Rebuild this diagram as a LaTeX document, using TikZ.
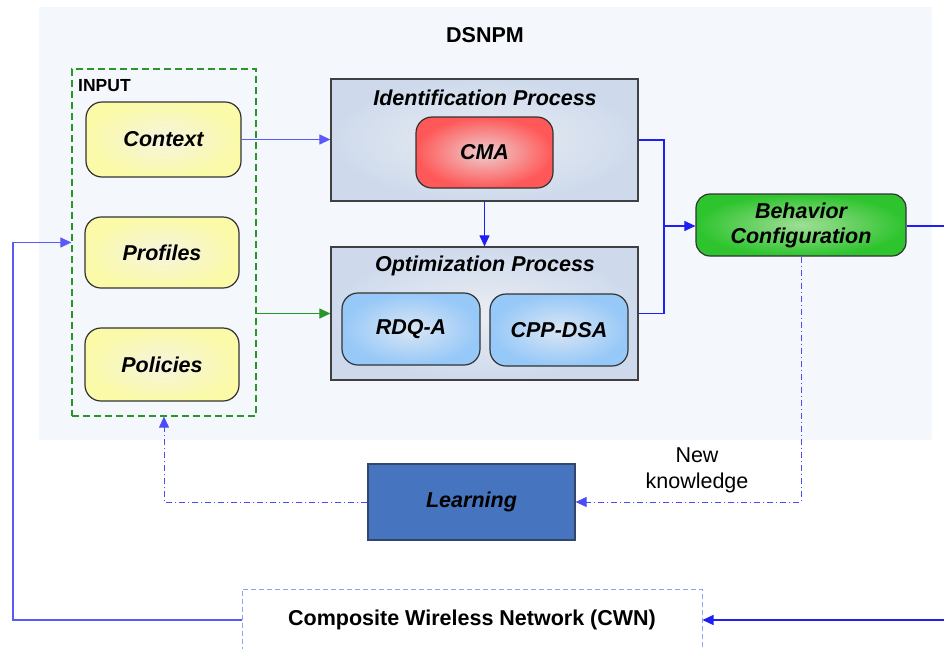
\documentclass[tikz,border=0pt]{standalone}
\usepackage{fontspec}
\setmainfont{Liberation Sans}
\usetikzlibrary{arrows.meta}

\definecolor{panelbg}{RGB}{244,247,252}
\definecolor{procout}{RGB}{206,218,236}
\definecolor{procin}{RGB}{234,237,243}
\definecolor{yelout}{RGB}{250,250,168}
\definecolor{yelin}{RGB}{246,244,222}
\definecolor{redout}{RGB}{255,88,88}
\definecolor{redin}{RGB}{238,206,206}
\definecolor{bluout}{RGB}{150,200,248}
\definecolor{bluin}{RGB}{218,230,244}
\definecolor{grnout}{RGB}{46,196,46}
\definecolor{grnin}{RGB}{160,222,150}
\definecolor{learnfill}{RGB}{70,116,190}
\definecolor{learnline}{RGB}{50,70,110}
\definecolor{flowblue}{RGB}{30,30,245}
\definecolor{lightflow}{RGB}{90,90,250}
\definecolor{inputgreen}{RGB}{40,150,40}
\definecolor{cwnline}{RGB}{130,165,250}

\tikzset{
  every node/.style={font=\fontsize{21.5}{25}\selectfont},
  bigfont/.style={font=\fontsize{21.5}{25}\selectfont\bfseries},
  itfont/.style={font=\fontsize{21.5}{25}\selectfont\bfseries\itshape},
  rblock/.style={itfont, draw=black!80, line width=1.2pt, rounded corners=16pt, align=center, inner sep=0pt},
  inblock/.style={rblock, inner color=yelin, outer color=yelout, minimum width=155pt, minimum height=75pt},
  cmablock/.style={rblock, inner color=redin, outer color=redout, minimum width=137pt, minimum height=71pt},
  algblock/.style={rblock, inner color=bluin, outer color=bluout, minimum width=138pt, minimum height=72pt},
  procblock/.style={draw=black!75, line width=1.2pt, inner color=procin, outer color=procout, minimum width=307pt, inner sep=0pt},
  flow/.style={draw=flowblue, line width=1.1pt, -{Triangle[length=11pt,width=10pt]}},
  feedback/.style={draw=flowblue!80!white, line width=0.9pt, dash pattern=on 6pt off 3pt on 1pt off 3pt, -{Triangle[length=11pt,width=10pt]}}
}

\begin{document}
\begin{tikzpicture}[x=1pt,y=-1pt]
  \useasboundingbox (0,0) rectangle (944,648);
  \fill[white] (0,0) rectangle (944,648);

  \node[fill=panelbg, minimum width=893pt, minimum height=433pt, inner sep=0pt] (dsnpm) at (485.5,223.5) {};
  \node[bigfont] (dsnpmtitle) at (485,35) {DSNPM};

  \node[draw=inputgreen, line width=1.2pt, dash pattern=on 7pt off 4pt, minimum width=184pt, minimum height=347pt, inner sep=0pt] (input) at (164,242.5) {};
  \node[font=\fontsize{17.5}{20}\selectfont\bfseries, anchor=west, inner sep=0pt] (inputtitle) at (78,86) {INPUT};
  \node[inblock] (context) at (163.5,139.5) {Context};
  \node[inblock, minimum width=154pt, minimum height=71pt] (profiles) at (162,252.5) {Profiles};
  \node[inblock, minimum width=154pt, minimum height=73pt] (policies) at (162,364.5) {Policies};

  \node[procblock, minimum height=122pt] (ident) at (484.5,140) {};
  \node[itfont] (identtitle) at (485,98) {Identification Process};
  \node[cmablock] (cma) at (484.5,152.5) {CMA};

  \node[procblock, minimum height=133pt] (optim) at (484.5,313.5) {};
  \node[itfont] (optimtitle) at (485,266) {Optimization Process};
  \node[algblock] (rdqa) at (411,329) {RDQ-A};
  \node[algblock] (cppdsa) at (559,330) {CPP-DSA};

  \node[rblock, rounded corners=14pt, inner color=grnin, outer color=grnout, minimum width=210pt, minimum height=62pt] (behavior) at (801,225) {Behavior\\[0pt]Configuration};

  \node[itfont, draw=learnline, line width=1.2pt, fill=learnfill, minimum width=207pt, minimum height=76pt, inner sep=0pt] (learning) at (471.5,502) {Learning};

  \node[bigfont, draw=cwnline, fill=white, line width=1pt, dash pattern=on 5pt off 3pt, minimum width=460pt, minimum height=62pt, inner sep=0pt] (cwn) at (472,620) {Composite Wireless Network (CWN)};

  \node[align=center, inner sep=0pt] (newknow) at (697,470) {New\\[1pt]knowledge};

  \coordinate (merge) at (664,226);
  \coordinate (rightturn) at (962,226);
  \coordinate (leftturn) at (13,619);

  \draw[flow, draw=lightflow] (context.east) -- (context.east -| ident.west);
  \draw[flow, draw=inputgreen] (input.east |- optim.west) -- (optim.west);
  \draw[flow] (ident.south) -- (optim.north);
  \draw[draw=flowblue, line width=1.1pt] (ident.east) -| (merge) |- (optim.east);
  \draw[flow] (merge) -- (merge -| behavior.west);
  \draw[flow] (behavior.east |- rightturn) -- (rightturn) |- (cwn.east);
  \draw[flow, draw=lightflow] (cwn.west) -| (leftturn) |- (input.west);
  \draw[feedback] (behavior.south) |- (learning.east);
  \draw[feedback] (learning.west) -| (input.south);
\end{tikzpicture}
\end{document}
